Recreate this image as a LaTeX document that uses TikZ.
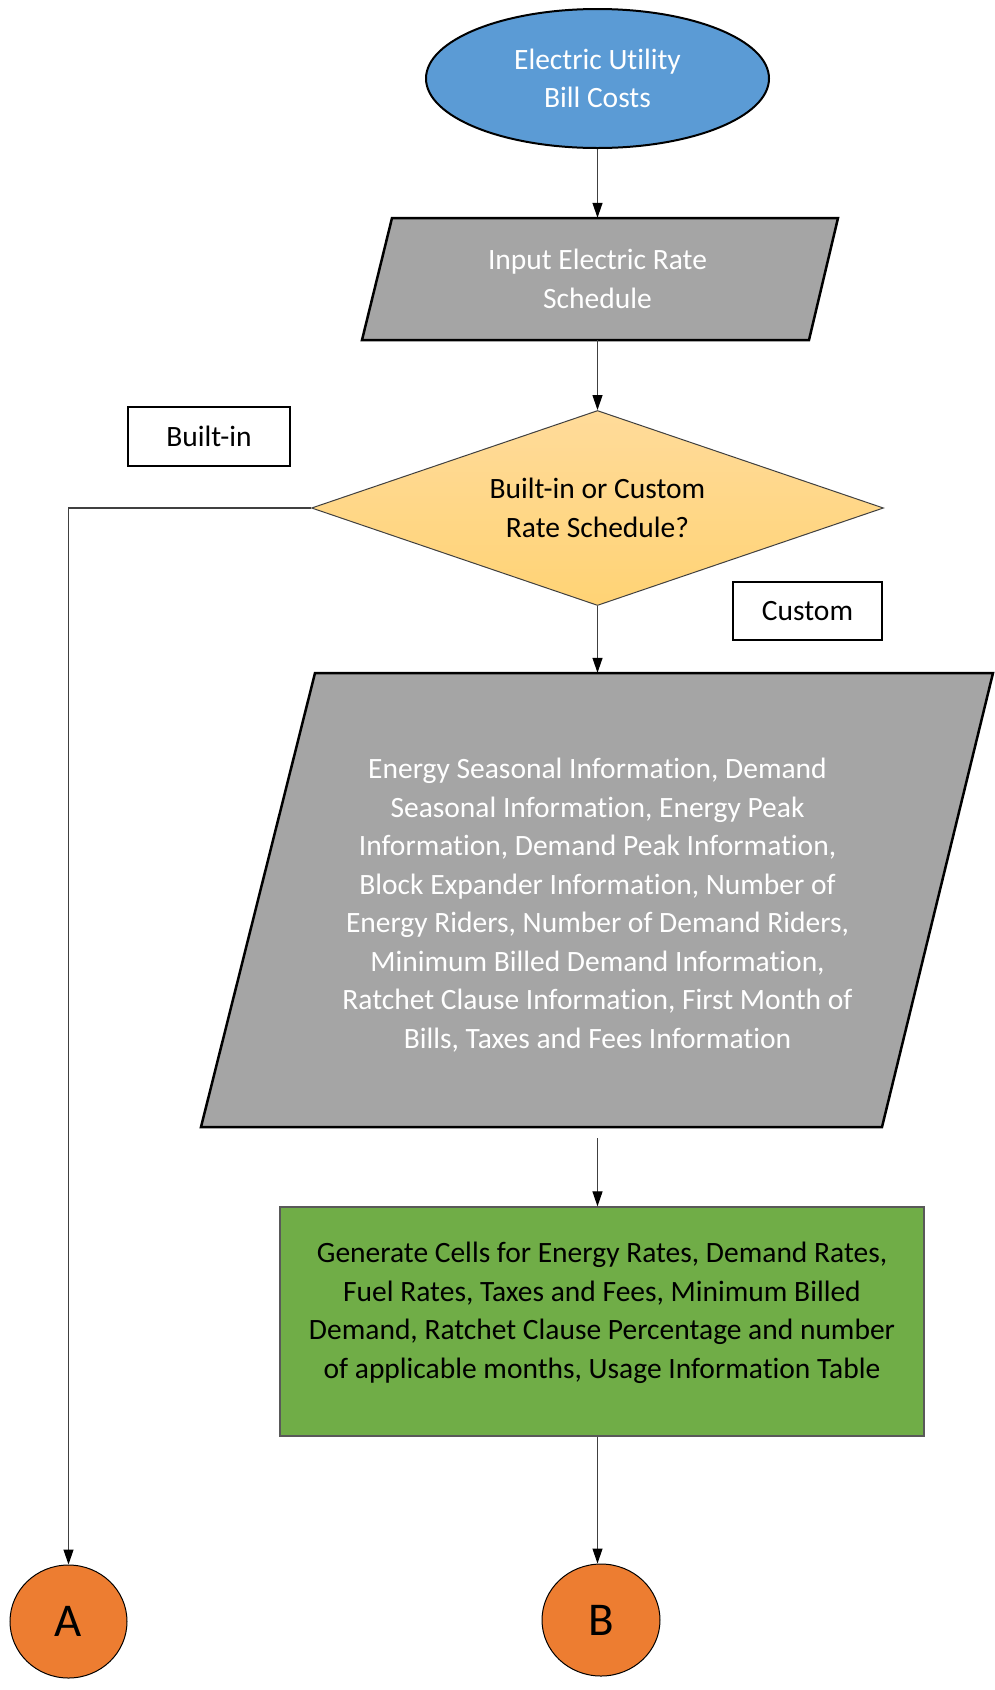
\documentclass[tikz,border=0pt]{standalone}
\usepackage{fontspec}
\setmainfont{Carlito}[Ligatures={NoCommon}]
\usetikzlibrary{shapes.geometric,arrows.meta}

\definecolor{startblue}{HTML}{5B9BD5}
\definecolor{inputgray}{HTML}{A5A5A5}
\definecolor{decitop}{HTML}{FFDB9A}
\definecolor{decibot}{HTML}{FFD375}
\definecolor{procgreen}{HTML}{70AD47}
\definecolor{connorange}{HTML}{ED7D31}

\begin{document}
\begin{tikzpicture}[x=1pt,y=-1pt,
  txt/.style={font=\fontsize{29.5}{38.5}\selectfont, align=center},
  conn/.style={draw=black!75, line width=1.2pt, -{Triangle[length=15pt,width=10pt,color=black]}},
  iobox/.style={txt, text=white, inner sep=0, minimum width=#1},
  lbl/.style={txt, draw=black, line width=2pt, inner sep=0},
  connector/.style={ellipse, draw=black, line width=1pt, fill=connorange, inner sep=0,
    font=\fontsize{47}{50}\selectfont}
]
\useasboundingbox (0,0) rectangle (995,1690);
\fill[white] (0,0) rectangle (995,1690);

% start terminal
\node[ellipse, fill=startblue, draw=black, line width=2pt, inner sep=0,
      minimum width=343, minimum height=139, txt, text=white]
  (start) at (597.5,78.5) {Electric Utility\\Bill Costs};

% rate schedule input
\fill[inputgray, draw=black, line width=2.5pt, line join=miter]
  (392,218) -- (838,218) -- (809,340) -- (362,340) -- cycle;
\node[iobox=476, minimum height=122] (inp) at (597.5,279) {Input Electric Rate\\Schedule};

% decision
\node[diamond, shape aspect=2.93, minimum width=572, minimum height=195, inner sep=0,
      draw=black!75, line width=1pt, top color=decitop, bottom color=decibot, txt]
  (dec) at (597.5,508) {Built-in or Custom\\Rate Schedule?};

% branch labels
\node[lbl, minimum width=162, minimum height=59] (bi) at (209,436.5) {Built-in};
\node[lbl, minimum width=149, minimum height=58] (cu) at (807.5,611) {Custom};

% custom rate data input
\fill[inputgray, draw=black, line width=2.5pt, line join=miter]
  (315,673) -- (993,673) -- (882,1127) -- (201,1127) -- cycle;
\node[iobox=792, minimum height=454] (info) at (597.5,900) {};
\node[txt, text=white, inner sep=0] (infotext) at (597.5,905)
  {Energy Seasonal Information, Demand\\
   Seasonal Information, Energy Peak\\
   Information, Demand Peak Information,\\
   Block Expander Information, Number of\\
   Energy Riders, Number of Demand Riders,\\
   Minimum Billed Demand Information,\\
   Ratchet Clause Information, First Month of\\
   Bills, Taxes and Fees Information};

% cell generation
\node[draw=black!65, line width=1.3pt, fill=procgreen, minimum width=644, minimum height=229,
      inner sep=0] (gen) at (602,1321.5) {};
\node[txt, inner sep=0] (gentext) at (602,1313)
  {Generate Cells for Energy Rates, Demand Rates,\\
   Fuel Rates, Taxes and Fees, Minimum Billed\\
   Demand, Ratchet Clause Percentage and number\\
   of applicable months, Usage Information Table};

% off-page connectors
\node[connector, minimum width=117, minimum height=113] (A) at (68.5,1621.5) {A};
\node[connector, minimum width=118, minimum height=112] (B) at (601,1620) {B};

\coordinate (genfrom) at (597.5,1138);

% connectors
\draw[conn] (start.south) -- (inp.north);
\draw[conn] (inp.south) -- (dec.north);
\draw[conn] (dec.south) -- (info.north);
\draw[conn] (dec.west) -| (A.north);
\draw[conn] (genfrom) -- (genfrom |- gen.north);
\draw[conn] (genfrom |- gen.south) -- (genfrom |- B.north);
\end{tikzpicture}
\end{document}
